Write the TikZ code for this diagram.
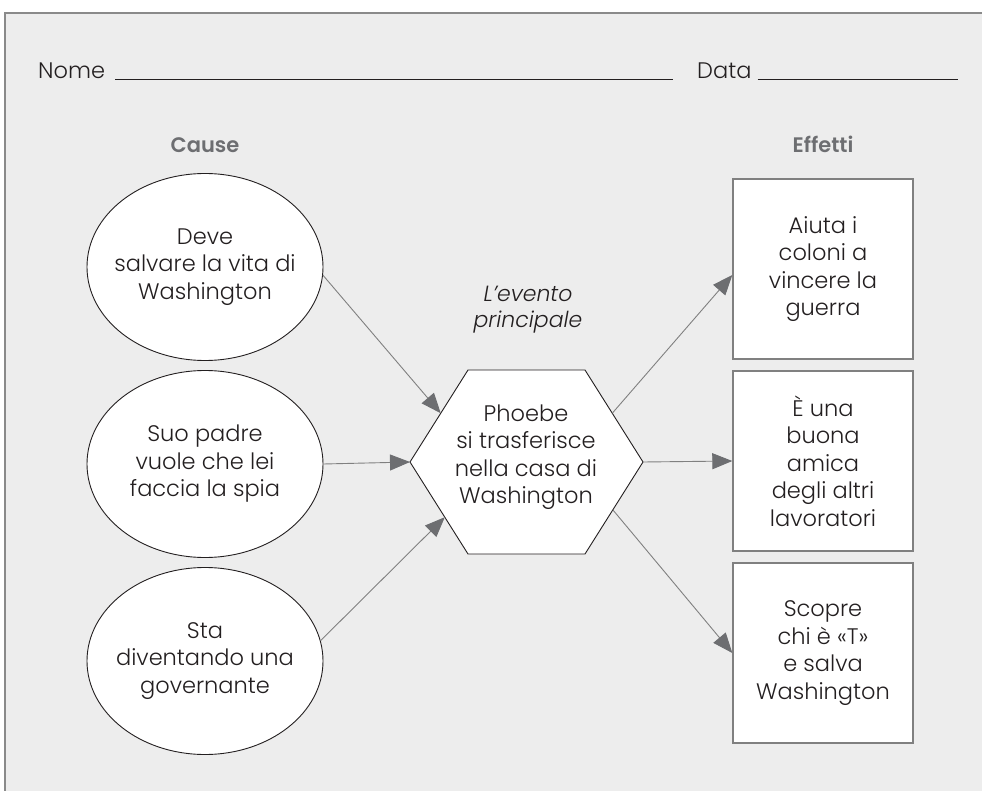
\documentclass[tikz,border=0pt]{standalone}
\usepackage{fontspec}
\setmainfont{Poppins}[UprightFont={* Light},ItalicFont={* Light Italic},BoldFont={* SemiBold}]
\usetikzlibrary{arrows.meta,calc,shapes.geometric}
\definecolor{panelgray}{HTML}{EDEDED}
\definecolor{framegray}{HTML}{8A8A8A}
\definecolor{inkgray}{HTML}{231F20}
\definecolor{headgray}{HTML}{6D6E71}
\definecolor{linegray}{HTML}{808080}
\tikzset{
    txt/.style = {
        align=center,
        text=inkgray,
        font=\fontsize{22.5}{27.5}\selectfont,
        inner sep=0pt,
        },
    cause/.style = {
        draw=inkgray,
        ellipse,
        fill=white,
        line width=0.9pt,
        minimum width=236pt,
        minimum height=187pt,
        inner sep=0pt,
        },
    effect/.style = {
        draw=linegray,
        fill=white,
        line width=1.4pt,
        minimum width=180pt,
        minimum height=180pt,
        },
    heading/.style = {
        text=headgray,
        font=\fontsize{21}{24}\selectfont\bfseries,
        anchor=base,
        },
    arrow/.style = {
        draw=linegray,
        line width=0.9pt,
        -{Triangle[length=20pt,width=16pt,color=headgray]},
        },
    rule/.style = {
        draw=inkgray,
        line width=0.6pt,
        },
}

\begin{document}
\begin{tikzpicture}[x=1pt,y=-1pt]
            \useasboundingbox (0,0) rectangle (982,791);
            \fill[panelgray] (5,13) rectangle (982,791);
            \draw[framegray, line width=1.6pt] (5,791) -- (5,13) -- (982,13);

            % header
            \node[txt, anchor=base west] (nome) at (38,79) {Nome};
            \node[txt, anchor=base west] (data) at (697,79) {Data};
            \coordinate (nomeend) at (673,79);
            \coordinate (dataend) at (958,79);
            \draw[rule] ([xshift=10pt]nome.base east) -- (nomeend);
            \draw[rule] ([xshift=6pt]data.base east) -- (dataend);

            \node[heading] (h1) at (205,153) {Cause};
            \node[heading] (h2) at (823,153) {Effetti};

            % causes
            \node[cause, label={[txt]center:{Deve\\salvare la vita di\\Washington}}] (c1) at (205,267) {};
            \node[cause, label={[txt]center:{Suo padre\\vuole che lei\\faccia la spia}}] (c2) at (205,464) {};
            \node[cause, label={[txt]center:{Sta\\diventando una\\governante}}] (c3) at (205,661) {};

            % main event
            \coordinate (x1) at (410,462);
            \coordinate (x2) at (468,370);
            \coordinate (x3) at (585,370);
            \coordinate (x4) at (643,462);
            \coordinate (x5) at (585,554);
            \coordinate (x6) at (468,554);
            \draw[inkgray, fill=white, line width=0.9pt] (x1) -- (x2) -- (x3) -- (x4) -- (x5) -- (x6) -- cycle;
            \node[txt] (ev) at (526,457) {Phoebe\\si trasferisce\\nella casa di\\Washington};
            \node[txt, font=\fontsize{22}{25}\selectfont\itshape, anchor=base] (evt) at (528,327) {L’evento\\principale};

            % effects
            \node[effect] (e1) at (823,269) {};
            \node[effect] (e2) at (823,461) {};
            \node[effect] (e3) at (823,653) {};
            \node[txt] at (e1) {Aiuta i\\coloni a\\vincere la\\guerra};
            \node[txt] at (e2) {È una\\buona\\amica\\degli altri\\lavoratori};
            \node[txt] at (e3) {Scopre\\chi è «T»\\e salva\\Washington};

            \path (c1.-4) edge[arrow] ($(x1)!0.53!(x2)$);
            \path (c2.east) edge[arrow] (x1);
            \path (c3.10) edge[arrow] ($(x1)!0.6!(x6)$);
            \path ($(x4)!0.53!(x3)$) edge[arrow] ([yshift=-6pt]e1.west);
            \path (x4) edge[arrow] (e2.west);
            \path ($(x4)!0.52!(x5)$) edge[arrow] (e3.west);
        \end{tikzpicture}
\end{document}
